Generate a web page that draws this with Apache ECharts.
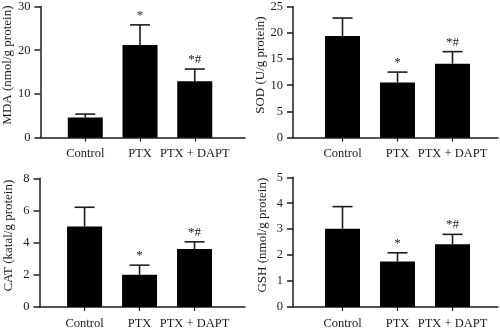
<!DOCTYPE html>
<html>
<head>
<meta charset="utf-8">
<script src="https://cdn.jsdelivr.net/npm/echarts@6/dist/echarts.min.js"></script>
<style>
  html, body { margin: 0; padding: 0; background: #fff; }
  #chart { width: 500px; height: 330px; }
</style>
</head>
<body>
<div id="chart"></div>
<script>
// Groups and significance marks
const categories = ['Control', 'PTX', 'PTX + DAPT'];
const marks = ['', '*', '*#'];

// MDA (nmol/g protein)
const mdaMean = [4.6, 21.2, 12.9];
const mdaSd = [0.8, 4.6, 2.8];
const mdaTicks = { max: 30, interval: 10 };

// SOD (U/g protein)
const sodMean = [19.4, 10.5, 14.1];
const sodSd = [3.4, 2.0, 2.3];
const sodTicks = { max: 25, interval: 5 };

// CAT (katal/g protein)
const catMean = [5.0, 2.0, 3.6];
const catSd = [1.2, 0.6, 0.45];
const catTicks = { max: 8, interval: 2 };

// GSH (nmol/g protein)
const gshMean = [3.02, 1.75, 2.42];
const gshSd = [0.85, 0.34, 0.38];
const gshTicks = { max: 5, interval: 1 };

const FONT = '"Liberation Serif", "DejaVu Serif", serif';
const INK = '#1c1c1c';

const panels = [
  { name: 'MDA (nmol/g protein)', mean: mdaMean, sd: mdaSd, ticks: mdaTicks,
    grid: { left: 39.5, top: 4, width: 205.5, height: 133.7 }, xMin: -0.82, xMax: 2.918 },
  { name: 'SOD (U/g protein)', mean: sodMean, sd: sodSd, ticks: sodTicks,
    grid: { left: 293, top: 4, width: 205, height: 133.7 }, xMin: -0.9, xMax: 2.827 },
  { name: 'CAT (katal/g protein)', mean: catMean, sd: catSd, ticks: catTicks,
    grid: { left: 39.5, top: 178.3, width: 205.5, height: 132.4 }, xMin: -0.82, xMax: 2.918 },
  { name: 'GSH (nmol/g protein)', mean: gshMean, sd: gshSd, ticks: gshTicks,
    grid: { left: 293, top: 177.3, width: 205, height: 133.7 }, xMin: -0.9, xMax: 2.827 }
];

const axisLine = { show: true, onZero: false, lineStyle: { color: INK, width: 1.5 } };
const idx = [0, 1, 2];

const option = {
  animation: false,
  backgroundColor: '#fff',
  grid: panels.map(p => Object.assign({ containLabel: false }, p.grid)),
  xAxis: panels.map((p, i) => ({
    type: 'value',
    gridIndex: i,
    min: p.xMin,
    max: p.xMax,
    splitLine: { show: false },
    axisLine: axisLine,
    axisTick: { show: true, customValues: idx, length: 4, lineStyle: { color: INK, width: 1.2 } },
    axisLabel: {
      customValues: idx,
      formatter: v => categories[Math.round(v)],
      color: INK, fontFamily: FONT, fontSize: 12.5, margin: 10
    }
  })),
  yAxis: panels.map((p, i) => ({
    type: 'value',
    gridIndex: i,
    min: 0,
    max: p.ticks.max,
    interval: p.ticks.interval,
    splitLine: { show: false },
    axisLine: axisLine,
    axisTick: { show: true, length: 6, lineStyle: { color: INK, width: 1.5 } },
    axisLabel: { color: INK, fontFamily: FONT, fontSize: 12.5, margin: 10 },
    name: p.name,
    nameLocation: 'middle',
    nameRotate: 90,
    nameGap: 24,
    nameTextStyle: { color: INK, fontFamily: FONT, fontSize: 13, padding: [0, 0, 0, 14] }
  })),
  series: []
};

panels.forEach((p, i) => {
  option.series.push({
    type: 'bar',
    xAxisIndex: i,
    yAxisIndex: i,
    barWidth: 35,
    itemStyle: { color: '#000' },
    data: p.mean.map((v, k) => [k, v])
  });
  option.series.push({
    type: 'custom',
    xAxisIndex: i,
    yAxisIndex: i,
    clip: false,
    data: p.mean.map((v, k) => [k, v, v + p.sd[k]]),
    renderItem: function (params, api) {
      const base = api.coord([api.value(0), api.value(1)]);
      const top = api.coord([api.value(0), api.value(2)]);
      const half = 10;
      const style = { stroke: INK, lineWidth: 1.6 };
      const children = [
        { type: 'line', shape: { x1: base[0], y1: base[1], x2: top[0], y2: top[1] }, style: style },
        { type: 'line', shape: { x1: top[0] - half, y1: top[1], x2: top[0] + half, y2: top[1] }, style: style }
      ];
      const mark = marks[params.dataIndex];
      if (mark) {
        children.push({
          type: 'text',
          style: {
            text: mark, x: top[0], y: top[1] - 3,
            align: 'center', verticalAlign: 'bottom',
            fill: INK, font: '13px ' + FONT
          }
        });
      }
      return { type: 'group', children: children };
    }
  });
});

const chart = echarts.init(document.getElementById('chart'), null, { renderer: 'canvas' });
chart.setOption(option);
</script>
</body>
</html>
